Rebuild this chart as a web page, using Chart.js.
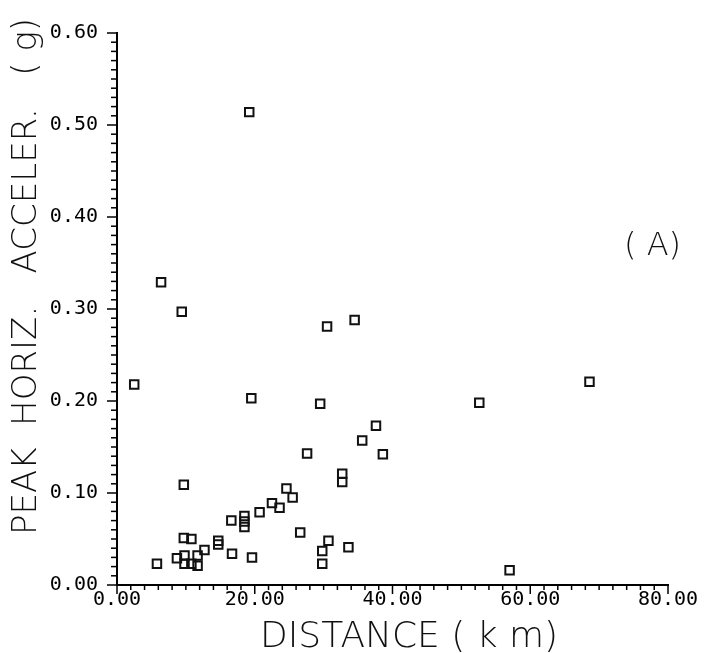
<!DOCTYPE html>
<html><head><meta charset="utf-8">
<script src="https://cdn.jsdelivr.net/npm/chart.js@4.4.0/dist/chart.umd.min.js"></script>
<style>html,body{margin:0;padding:0;background:#fff;}#wrap{width:704px;height:653px;position:relative;}</style>
</head><body><div id="wrap"><canvas id="c"></canvas></div>
<script>
// Distance (km) and peak horizontal acceleration (g)
const distanceKm = [2.5, 6.4, 9.4, 19.2, 19.5, 29.5, 30.5, 34.5, 52.6, 68.6, 57.0,
  37.6, 35.6, 27.6, 38.6, 32.7, 32.7, 24.6, 25.5, 22.5, 23.6, 20.7, 26.6, 30.7, 29.8, 29.8, 33.6,
  9.7, 9.7, 10.8, 5.8, 8.7, 9.8, 9.8, 10.8, 11.7, 11.7, 12.7, 14.7, 14.7, 16.7, 16.6,
  18.5, 18.5, 18.5, 19.6];
const peakAccelG = [0.218, 0.329, 0.297, 0.514, 0.203, 0.197, 0.281, 0.288, 0.198, 0.221, 0.016,
  0.173, 0.157, 0.143, 0.142, 0.121, 0.112, 0.105, 0.095, 0.089, 0.084, 0.079, 0.057, 0.048, 0.037, 0.023, 0.041,
  0.109, 0.051, 0.050, 0.023, 0.029, 0.032, 0.023, 0.023, 0.032, 0.021, 0.038, 0.048, 0.044, 0.034, 0.070,
  0.075, 0.069, 0.063, 0.030];
const xTickLabels = ['0.00', '20.00', '40.00', '60.00', '80.00'];
const yTickLabels = ['0.00', '0.10', '0.20', '0.30', '0.40', '0.50', '0.60'];
const xTitle = 'DISTANCE ( k m)';
const yTitle = 'PEAK  HORIZ.   ACCELER.   ( g)';
const panelLabel = '( A)';

const points = distanceKm.map((d, i) => ({x: d, y: peakAccelG[i]}));

const plotterDecor = {
  id: 'plotterDecor',
  afterDraw(chart) {
    const ctx = chart.ctx, xs = chart.scales.x, ys = chart.scales.y;
    ctx.save();
    ctx.strokeStyle = '#000';
    ctx.lineWidth = 1.5;
    xs.ticks.forEach(t => {
      const px = xs.getPixelForValue(t.value);
      const major = Math.round(t.value) % 20 === 0;
      ctx.beginPath(); ctx.moveTo(px, xs.top); ctx.lineTo(px, xs.top + (major ? 9 : 5)); ctx.stroke();
    });
    ys.ticks.forEach(t => {
      const py = ys.getPixelForValue(t.value);
      const major = Math.round(t.value * 100) % 10 === 0;
      ctx.beginPath(); ctx.moveTo(ys.right, py); ctx.lineTo(ys.right - (major ? 10 : 6), py); ctx.stroke();
    });
    ctx.fillStyle = '#111';
    // x title
    ctx.font = '200 36px "DejaVu Sans"';
    ctx.textAlign = 'left'; ctx.textBaseline = 'alphabetic';
    ctx.fillText(xTitle, 260, 647);
    // y title
    ctx.save();
    ctx.font = '200 34px "DejaVu Sans"';
    ctx.translate(36, 276.5);
    ctx.rotate(-Math.PI / 2);
    ctx.textAlign = 'center';
    ctx.fillText(yTitle, 0, 0);
    ctx.restore();
    // panel label
    ctx.font = '200 32px "DejaVu Sans"';
    ctx.textAlign = 'left';
    ctx.fillText(panelLabel, 624, 255);
    ctx.restore();
  }
};

new Chart(document.getElementById('c'), {
  type: 'scatter',
  data: { datasets: [{
    data: points,
    pointStyle: 'rect',
    radius: 6,
    hoverRadius: 6,
    borderWidth: 2,
    borderColor: '#111',
    backgroundColor: 'rgba(0,0,0,0)'
  }]},
  options: {
    responsive: true,
    maintainAspectRatio: false,
    animation: false,
    layout: { padding: { top: 33, right: 36, left: 0, bottom: 0 } },
    plugins: { legend: { display: false }, tooltip: { enabled: false } },
    scales: {
      x: {
        type: 'linear', min: 0, max: 80,
        afterFit(s) { s.height = 68; },
        grid: { display: true, drawOnChartArea: false, drawTicks: false, color: 'rgba(0,0,0,0)' },
        border: { display: true, color: '#000', width: 2 },
        ticks: {
          stepSize: 2, autoSkip: false, maxRotation: 0, padding: 3, color: '#000',
          font: { family: '"DejaVu Sans Mono"', size: 20 },
          callback: v => (Math.round(v) % 20 === 0 ? xTickLabels[Math.round(v) / 20] : '')
        }
      },
      y: {
        type: 'linear', min: 0, max: 0.6,
        afterFit(s) { s.width = 117; },
        grid: { display: true, drawOnChartArea: false, drawTicks: false, color: 'rgba(0,0,0,0)' },
        border: { display: true, color: '#000', width: 2 },
        ticks: {
          stepSize: 0.01, autoSkip: false, padding: 19, color: '#000',
          font: { family: '"DejaVu Sans Mono"', size: 20 },
          callback: v => (Math.round(v * 100) % 10 === 0 ? yTickLabels[Math.round(v * 10)] : '')
        }
      }
    }
  },
  plugins: [plotterDecor]
});
</script></body></html>
